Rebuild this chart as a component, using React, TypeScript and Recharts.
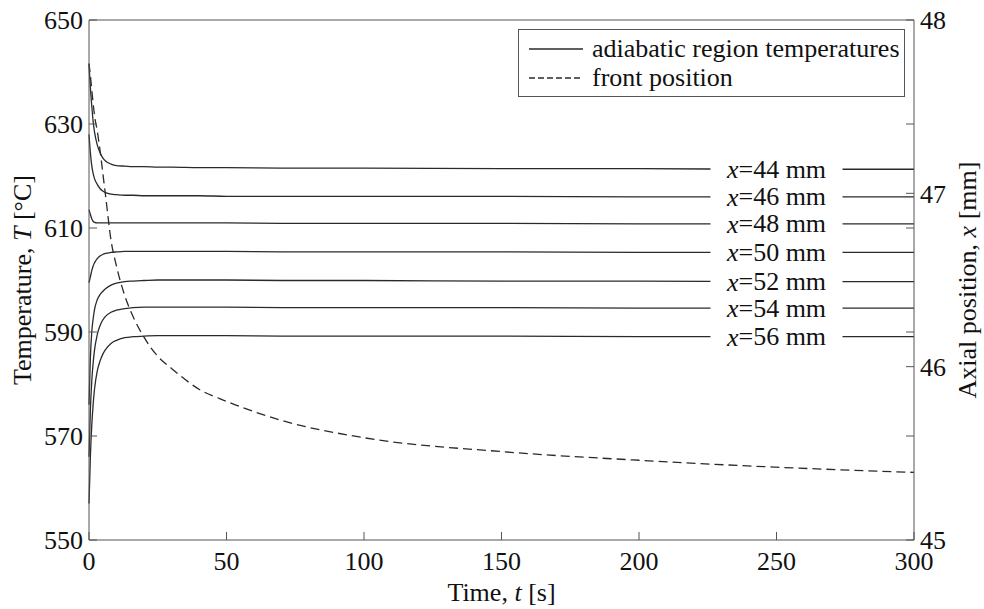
import { LineChart, Line, XAxis, YAxis, ReferenceDot, ReferenceLine, Legend } from 'recharts';

const times = [0, 0.5, 1, 1.5, 2, 3, 4, 5, 6, 8, 10, 13, 16, 20, 25, 30, 40, 50, 70, 100, 150, 200, 250, 300];

// adiabatic region temperatures [°C] at each probe position
const temp44 = [641.5, 637, 633.5, 630.5, 628.5, 626, 624.5, 623.5, 622.9, 622.3, 622, 621.9, 621.8, 621.8, 621.7, 621.7, 621.6, 621.6, 621.5, 621.5, 621.4, 621.4, 621.3, 621.3];
const temp46 = [628, 624.5, 622, 620.5, 619.5, 618.4, 617.6, 617.1, 616.8, 616.5, 616.4, 616.3, 616.3, 616.2, 616.2, 616.2, 616.2, 616.1, 616.1, 616.1, 616.1, 616, 616, 616];
const temp48 = [613.5, 612.6, 611.8, 611.3, 611.1, 611, 611, 611, 611, 611, 611, 611, 611, 611, 611, 611, 611, 611, 610.9, 610.9, 610.9, 610.8, 610.8, 610.8];
const temp50 = [599.5, 600.6, 601.8, 602.7, 603.3, 604.1, 604.6, 604.9, 605.1, 605.3, 605.4, 605.5, 605.5, 605.5, 605.5, 605.5, 605.5, 605.5, 605.4, 605.4, 605.4, 605.3, 605.3, 605.3];
const temp52 = [576, 585, 590, 592.5, 594.3, 596.2, 597.2, 597.8, 598.3, 599, 599.4, 599.7, 599.8, 599.9, 600, 600, 600, 600, 599.9, 599.9, 599.8, 599.8, 599.7, 599.7];
const temp54 = [566, 575, 580.5, 584, 586.5, 589.5, 591.2, 592.3, 593, 593.8, 594.2, 594.5, 594.7, 594.8, 594.8, 594.8, 594.8, 594.8, 594.7, 594.7, 594.7, 594.6, 594.6, 594.6];
const temp56 = [557, 566, 572, 576, 579, 582.5, 584.4, 585.7, 586.6, 587.8, 588.4, 588.9, 589.1, 589.2, 589.3, 589.3, 589.3, 589.3, 589.2, 589.2, 589.2, 589.1, 589.1, 589.1];

// front position [mm]
const frontPos = [47.75, 47.68, 47.6, 47.52, 47.45, 47.36, 47.25, 47.12, 46.99, 46.73, 46.58, 46.41, 46.29, 46.17, 46.06, 45.99, 45.87, 45.8, 45.69, 45.59, 45.51, 45.46, 45.42, 45.39];

const probeNames = ['44', '46', '48', '50', '52', '54', '56'];
const probeSeries = [temp44, temp46, temp48, temp50, temp52, temp54, temp56];
const labelTime = 250;

const timeTicks = [0, 50, 100, 150, 200, 250, 300];
const tempTicks = [550, 570, 590, 610, 630, 650];
const posTicks = [45, 45.6, 46, 46.2, 46.8, 47, 47.4, 48];
const legendItems = ['adiabatic region temperatures', 'front position'];

const data = times.map((t, i) => {
  const row: Record<string, number> = { t, front: frontPos[i] };
  probeNames.forEach((n, k) => {
    row['x' + n] = probeSeries[k][i];
  });
  return row;
});

const FONT = 'Liberation Serif, Times New Roman, serif';
const FS = 26;
const AXIS = '#555';
const INK = '#2a2a2a';
const tickStyle = { fill: '#111', fontSize: FS, fontFamily: FONT };

function LeftTitle({ viewBox }: any) {
  const cx = 22;
  const cy = viewBox.y + viewBox.height / 2;
  return (
    <text x={cx} y={cy} transform={`rotate(-90 ${cx} ${cy})`} textAnchor="middle" dominantBaseline="central"
      fontSize={FS} fontFamily={FONT} fill="#111">
      Temperature, <tspan fontStyle="italic">T</tspan> [°C]
    </text>
  );
}

function RightTitle({ viewBox }: any) {
  const cx = viewBox.x + 53;
  const cy = viewBox.y + viewBox.height / 2;
  return (
    <text x={cx} y={cy} transform={`rotate(-90 ${cx} ${cy})`} textAnchor="middle" dominantBaseline="central"
      fontSize={FS} fontFamily={FONT} fill="#111">
      Axial position, <tspan fontStyle="italic">x</tspan> [mm]
    </text>
  );
}

function BottomTitle({ viewBox }: any) {
  return (
    <text x={viewBox.x + viewBox.width / 2} y={viewBox.y + 52} textAnchor="middle" dominantBaseline="central"
      fontSize={FS} fontFamily={FONT} fill="#111">
      Time, <tspan fontStyle="italic">t</tspan> [s]
    </text>
  );
}

function ProbeLabel({ viewBox, name }: any) {
  const cx = viewBox.x + viewBox.width / 2;
  const cy = viewBox.y + viewBox.height / 2;
  return (
    <g>
      <rect x={cx - 66} y={cy - 11} width={132} height={22} fill="#fff" />
      <text x={cx} y={cy} textAnchor="middle" dominantBaseline="central" fontSize={FS} fontFamily={FONT} fill="#111">
        <tspan fontStyle="italic">x</tspan>={name} mm
      </text>
    </g>
  );
}

function LegendBox() {
  return (
    <div style={{ width: 387, height: 68, border: `1px solid ${AXIS}`, background: '#fff', fontFamily: FONT, fontSize: FS, color: '#111', boxSizing: 'border-box', paddingTop: 4 }}>
      {legendItems.map((label, i) => (
        <div key={label} style={{ display: 'flex', alignItems: 'center', height: 29 }}>
          <svg width={73} height={10} style={{ flex: 'none' }}>
            <line x1={10} x2={64} y1={5} y2={5} stroke={INK} strokeWidth={1.3} strokeDasharray={i === 1 ? '6 3' : undefined} />
          </svg>
          <span style={{ lineHeight: '29px', whiteSpace: 'nowrap' }}>{label}</span>
        </div>
      ))}
    </div>
  );
}

export default function App() {
  const labelIndex = times.indexOf(labelTime);
  return (
    <div style={{ position: 'absolute', left: 0, top: 0, background: '#fff', fontFamily: FONT }}>
      <LineChart width={984} height={609} data={data} margin={{ top: 20, right: 0, bottom: 0, left: 0 }}>
        <XAxis dataKey="t" type="number" domain={[0, 300]} ticks={timeTicks} height={69}
          stroke={AXIS} tickSize={-8} tickMargin={20} tick={tickStyle} label={<BottomTitle />} />
        <YAxis yAxisId="left" domain={[550, 650]} ticks={tempTicks} width={89} allowDataOverflow
          stroke={AXIS} tickSize={-8} tickMargin={14} tick={tickStyle} label={<LeftTitle />} />
        <YAxis yAxisId="right" orientation="right" domain={[45, 48]} ticks={posTicks} width={70} allowDataOverflow
          stroke={AXIS} tickSize={-8} tickMargin={14} tick={tickStyle}
          tickFormatter={(v: number) => (Number.isInteger(v) ? String(v) : '')} label={<RightTitle />} />
        <ReferenceLine yAxisId="left" y={650} stroke={AXIS} />
        <Legend verticalAlign="middle" layout="horizontal" content={<LegendBox />}
          wrapperStyle={{ position: 'absolute', left: 518, top: 29, width: 387, height: 68 }} />
        {probeNames.map((n) => (
          <Line key={n} yAxisId="left" type="monotone" dataKey={'x' + n} stroke={INK} strokeWidth={1.3}
            dot={false} isAnimationActive={false} />
        ))}
        <Line yAxisId="right" type="monotone" dataKey="front" stroke={INK} strokeWidth={1.3}
          strokeDasharray="9 5" dot={false} isAnimationActive={false} />
        {probeNames.map((n, k) => (
          <ReferenceDot key={'lbl' + n} yAxisId="left" x={labelTime} y={probeSeries[k][labelIndex]} r={0}
            fill="none" stroke="none" label={<ProbeLabel name={n} />} />
        ))}
      </LineChart>
    </div>
  );
}
